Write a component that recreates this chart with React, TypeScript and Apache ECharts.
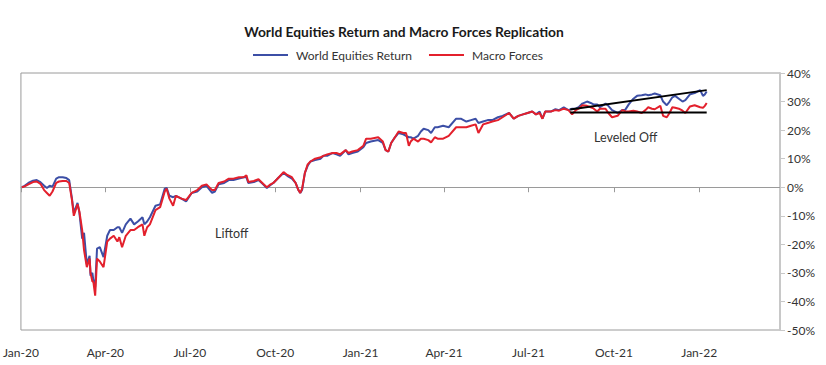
import React, { useEffect, useRef } from "react";
import * as echarts from "echarts";

const seriesNames = ["World Equities Return", "Macro Forces"];

const dates = [
  "2020-01-02","2020-01-05","2020-01-09","2020-01-14","2020-01-18","2020-01-22","2020-01-26","2020-01-29",
  "2020-02-01","2020-02-04","2020-02-08","2020-02-11","2020-02-15","2020-02-19","2020-02-22","2020-02-25","2020-02-27",
  "2020-03-02","2020-03-04","2020-03-07","2020-03-09","2020-03-12","2020-03-15","2020-03-16","2020-03-18","2020-03-19","2020-03-21","2020-03-23","2020-03-26","2020-03-30",
  "2020-04-03","2020-04-06","2020-04-10","2020-04-14","2020-04-16","2020-04-19","2020-04-23","2020-04-28",
  "2020-05-02","2020-05-06","2020-05-11","2020-05-13","2020-05-16","2020-05-19","2020-05-25","2020-05-30",
  "2020-06-04","2020-06-06","2020-06-09","2020-06-13","2020-06-16","2020-06-22","2020-06-27",
  "2020-07-03","2020-07-09","2020-07-14","2020-07-19","2020-07-25","2020-07-28",
  "2020-08-01","2020-08-07","2020-08-12","2020-08-17","2020-08-23","2020-08-28","2020-08-31",
  "2020-09-02","2020-09-08","2020-09-13","2020-09-18","2020-09-22","2020-09-26","2020-09-29",
  "2020-10-05","2020-10-10","2020-10-14","2020-10-19","2020-10-23","2020-10-26","2020-10-28","2020-10-30",
  "2020-11-02","2020-11-05","2020-11-08","2020-11-13","2020-11-19","2020-11-22","2020-11-26",
  "2020-12-02","2020-12-06","2020-12-10","2020-12-16","2020-12-19","2020-12-23","2020-12-29",
  "2021-01-04","2021-01-07","2021-01-12","2021-01-20","2021-01-25","2021-01-28","2021-01-31",
  "2021-02-03","2021-02-06","2021-02-11","2021-02-16","2021-02-19","2021-02-22","2021-02-24","2021-02-27",
  "2021-03-04","2021-03-07","2021-03-10","2021-03-15","2021-03-18","2021-03-22","2021-03-25","2021-03-31",
  "2021-04-06","2021-04-14","2021-04-19","2021-04-25","2021-04-30",
  "2021-05-05","2021-05-08","2021-05-13","2021-05-18","2021-05-23","2021-05-29",
  "2021-06-03","2021-06-10","2021-06-15","2021-06-20","2021-06-25","2021-06-30",
  "2021-07-05","2021-07-09","2021-07-13","2021-07-16","2021-07-19","2021-07-25","2021-07-30",
  "2021-08-03","2021-08-08","2021-08-13","2021-08-17","2021-08-21","2021-08-24","2021-08-28",
  "2021-09-02","2021-09-06","2021-09-09","2021-09-13","2021-09-16","2021-09-22","2021-09-25","2021-09-29",
  "2021-10-05","2021-10-10","2021-10-13","2021-10-17","2021-10-22","2021-10-26","2021-10-31",
  "2021-11-04","2021-11-07","2021-11-11","2021-11-14","2021-11-20","2021-11-23","2021-11-27","2021-11-30",
  "2021-12-03","2021-12-06","2021-12-10","2021-12-14","2021-12-17","2021-12-22","2021-12-27",
  "2022-01-02","2022-01-05","2022-01-07","2022-01-09",
];

const worldEquities = [
  0, 0.5, 1.5, 2.3, 2.5, 1.8, 0.5, -0.3,
  0.5, 0.2, 3, 3.5, 3.5, 3.2, 2.5, -4, -9,
  -5.5, -9, -18, -16, -27, -24, -31, -30, -32.5, -35, -21.5, -21, -24.5,
  -17, -15, -15, -14, -14, -16, -13, -11,
  -13, -12, -10.5, -13, -12, -10.5, -6.5, -6,
  -0.5, -0.2, -3, -3.5, -3, -4, -5,
  -2, -1.5, 0, 0.5, -2, -1.5,
  1, 1.5, 2.5, 2.5, 3, 3.5, 3.5,
  1.5, 1.8, 2.5, 1, -0.3, 0.8, 1.5,
  3.5, 5, 4, 3, 1.5, -1, -2, -1,
  5, 7.5, 9, 9.5, 10, 11, 11,
  12, 11.5, 11, 13, 11.5, 12, 12.5,
  14, 15.5, 16, 16.5, 15.5, 13, 12.5,
  15.5, 17, 19, 18.5, 18, 17.5, 17.5, 17,
  18, 19.5, 20.5, 20, 19, 21, 21, 21.5,
  21, 24, 24, 23, 23.5,
  24, 22.5, 23, 23.5, 23.5, 24.5,
  25, 26, 24, 25, 25.5, 26,
  26.5, 25.5, 26.5, 24, 26.5, 26.5, 27.3,
  27, 28, 27, 27.5, 27.6, 28, 29.3,
  30, 29.5, 29, 29, 28, 29.3, 28.5, 27,
  26, 27, 27, 29, 31, 32, 32.2,
  32.5, 32.2, 32.5, 32.8, 32.2, 30, 28.7, 30,
  31.5, 32, 31, 30, 30.5, 32.5, 33,
  34, 32, 32.5, 33.5,
];

const macroForces = [
  0, 0.3, 1, 1.8, 2.0, 1.2, -1, -2,
  -3, -1.5, 1.5, 2, 2.2, 2.2, 1.5, -4.5, -10,
  -6, -8.5, -15, -22, -28, -25, -30, -33, -33, -38, -25, -26, -28,
  -19, -18, -17, -19, -17.5, -21, -17, -15,
  -15, -14, -13, -17, -14, -13, -8, -7,
  -1.5, -0.5, -4, -6.5, -3, -4, -4.5,
  -2, -1, 0.5, 1, -1, -1,
  1.5, 2, 3, 3, 3.5, 3.5, 4.2,
  1.8, 2.2, 2.8, 1.2, 0, 1, 1.5,
  3.5, 5.3, 4.3, 3.5, 1.5, -1, -2, -0.5,
  5, 8, 9, 10, 10.5, 11, 11.5,
  12, 12, 11.5, 13, 12, 12.5, 13,
  14.5, 17, 17, 17.5, 16, 13, 12.5,
  15.5, 17, 19.5, 19, 19, 14.5, 16, 17,
  16, 17, 17, 16.5, 15.7, 17.5, 17, 17,
  18, 21, 21, 21, 21.5,
  22, 19, 22, 22.5, 23, 23.5,
  24.5, 26, 24, 25, 25.5, 26,
  26.5, 25.5, 26, 24, 26.5, 26.5, 27,
  26.8, 27.5, 27, 25.5, 27, 27.5, 28.7,
  28.5, 28, 27.6, 26.5, 27.5, 27.5, 26, 24.5,
  25, 27, 26.6, 26.5, 26.8, 26.5, 26,
  27, 28, 27.5, 27.3, 28.5, 25, 24.5, 26,
  28, 27.8, 27.5, 26.8, 26, 28.3, 28.7,
  28, 27.8, 28.5, 29.5,
];

// Trend annotation lines: [start date, end date], values
const trendDates = ["2021-08-15", "2022-01-09"];
const flatTrend = [26.2, 26.2];
const risingTrend = [27.2, 34.0];

const xTickDates = [
  "2020-01-01","2020-04-01","2020-07-01","2020-10-01",
  "2021-01-01","2021-04-01","2021-07-01","2021-10-01","2022-01-01",
];
const xTickLabels = [
  "Jan-20","Apr-20","Jul-20","Oct-20","Jan-21","Apr-21","Jul-21","Oct-21","Jan-22",
];
const xMin = "2020-01-01";
const xMax = "2022-03-29";

const annotations = [
  { text: "Liftoff" },
  { text: "Leveled Off" },
];

const ts = (s: string) => {
  const [y, m, d] = s.split("-").map(Number);
  return Date.UTC(y, m - 1, d);
};

const FONT = "Lato, 'Open Sans', sans-serif";

export default function App() {
  const ref = useRef<HTMLDivElement>(null);
  useEffect(() => {
    document.body.style.margin = "0";
    if (!ref.current) return;
    const chart = echarts.init(ref.current, undefined, { renderer: "svg" });
    const tickTs = xTickDates.map(ts);
    const labelFor = (v: number) => {
      let best = -1;
      let bd = Infinity;
      tickTs.forEach((t, i) => {
        const dd = Math.abs(t - v);
        if (dd < bd) { bd = dd; best = i; }
      });
      return bd < 3 * 86400000 ? xTickLabels[best] : "";
    };
    chart.setOption({
      animation: false,
      textStyle: { fontFamily: FONT },
      title: {
        text: "World Equities Return and Macro Forces Replication",
        left: 399,
        textAlign: "center",
        top: 19,
        textStyle: { fontFamily: FONT, fontSize: 13.8, fontWeight: "bold", color: "#1a1a1a" },
      },
      legend: {
        data: seriesNames,
        left: 248,
        top: 44,
        icon: "rect",
        itemWidth: 35,
        itemHeight: 2,
        itemGap: 17,
        textStyle: { fontFamily: FONT, fontSize: 12, color: "#333", padding: [0, 0, 0, 3] },
      },
      grid: {
        left: 18,
        right: 46,
        top: 73,
        bottom: 35,
        show: true,
        borderColor: "#9a9a9a",
        borderWidth: 1,
      },
      xAxis: [
        {
          type: "value",
          min: ts(xMin),
          max: ts(xMax),
          position: "bottom",
          axisLine: { show: true, onZero: true, lineStyle: { color: "#9a9a9a", width: 1 } },
          axisTick: { show: true, length: 5, customValues: tickTs, lineStyle: { color: "#9a9a9a" } },
          axisLabel: { show: false },
          splitLine: { show: false },
        },
        {
          type: "value",
          min: ts(xMin),
          max: ts(xMax),
          position: "bottom",
          axisLine: { show: false, onZero: false },
          axisTick: { show: false },
          axisLabel: {
            show: true,
            customValues: tickTs,
            formatter: (v: number) => labelFor(v),
            color: "#333",
            fontSize: 12,
            fontFamily: FONT,
            margin: 16,
            hideOverlap: false,
          },
          splitLine: { show: false },
        },
      ],
      yAxis: {
        type: "value",
        position: "right",
        min: -50,
        max: 40,
        interval: 10,
        axisLine: { show: true, lineStyle: { color: "#c8c8c8", width: 2 } },
        axisTick: { show: true, length: 5, lineStyle: { color: "#c8c8c8" } },
        axisLabel: { formatter: "{value}%", color: "#333", fontSize: 12, fontFamily: FONT, margin: 7 },
        splitLine: { show: false },
      },
      series: [
        {
          name: seriesNames[0],
          type: "line",
          data: dates.map((d, i) => [ts(d), worldEquities[i]]),
          showSymbol: false,
          symbol: "none",
          lineStyle: { color: "#3c4fa6", width: 2 },
          itemStyle: { color: "#3c4fa6" },
          z: 3,
        },
        {
          name: seriesNames[1],
          type: "line",
          data: dates.map((d, i) => [ts(d), macroForces[i]]),
          showSymbol: false,
          symbol: "none",
          lineStyle: { color: "#e3202c", width: 2 },
          itemStyle: { color: "#e3202c" },
          z: 4,
        },
        {
          name: "flat",
          type: "line",
          data: trendDates.map((d, i) => [ts(d), flatTrend[i]]),
          showSymbol: false,
          symbol: "none",
          lineStyle: { color: "#000", width: 2 },
          z: 5,
        },
        {
          name: "rising",
          type: "line",
          data: trendDates.map((d, i) => [ts(d), risingTrend[i]]),
          showSymbol: false,
          symbol: "none",
          lineStyle: { color: "#000", width: 2 },
          z: 5,
        },
      ],
      graphic: [
        {
          type: "text",
          left: 215,
          top: 227,
          style: { text: annotations[0].text, fontFamily: FONT, fontSize: 12.5, fill: "#333" },
        },
        {
          type: "text",
          left: 594,
          top: 131,
          style: { text: annotations[1].text, fontFamily: FONT, fontSize: 12.5, fill: "#333" },
        },
      ],
    });
    return () => chart.dispose();
  }, []);
  return <div ref={ref} style={{ width: 826, height: 365 }} />;
}
